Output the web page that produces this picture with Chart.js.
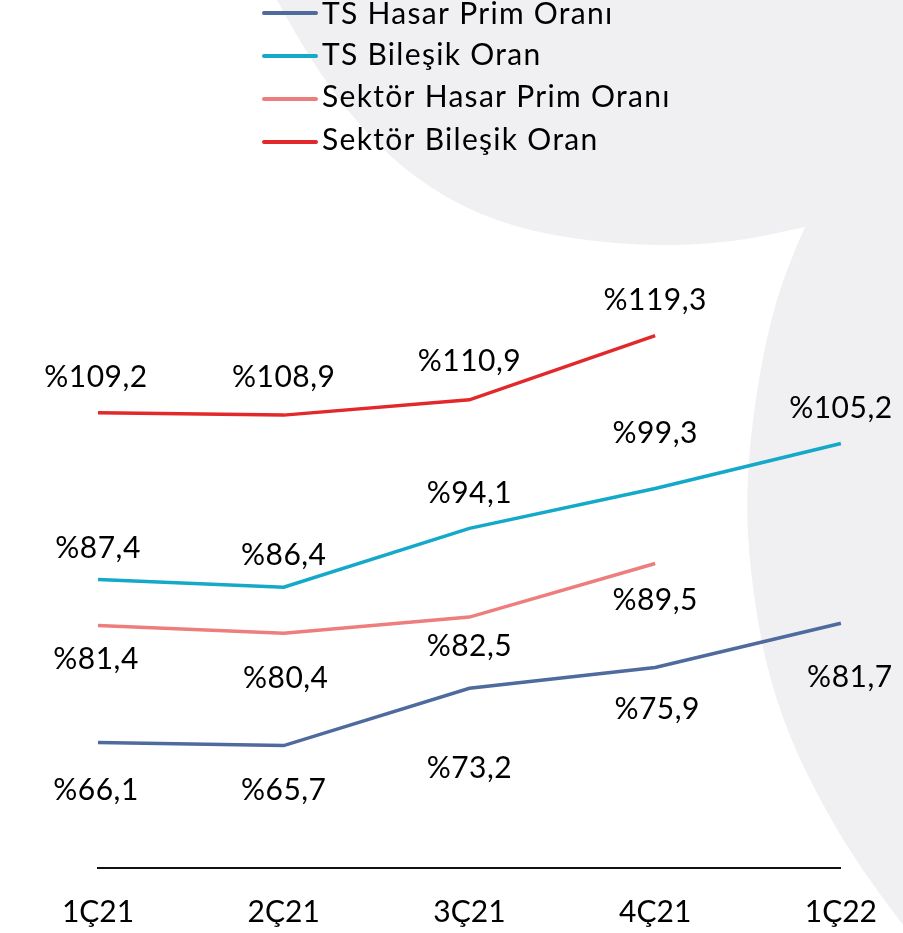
<!DOCTYPE html>
<html>
<head>
<meta charset="utf-8">
<script src="https://cdn.jsdelivr.net/npm/chart.js@4.4.1/dist/chart.umd.min.js"></script>
<style>
  html, body { margin: 0; padding: 0; background: #ffffff; }
  #wrap { width: 903px; height: 933px; }
</style>
</head>
<body>
<div id="wrap"><canvas id="c" width="903" height="933"></canvas></div>
<script>
// ---- data ----
const categories = ['1Ç21', '2Ç21', '3Ç21', '4Ç21', '1Ç22'];
const seriesNames = ['TS Hasar Prim Oranı', 'TS Bileşik Oran', 'Sektör Hasar Prim Oranı', 'Sektör Bileşik Oran'];
const tsHasarPrim = [66.1, 65.7, 73.2, 75.9, 81.7];
const tsBilesik = [87.4, 86.4, 94.1, 99.3, 105.2];
const sektorHasarPrim = [81.4, 80.4, 82.5, 89.5, null];
const sektorBilesik = [109.2, 108.9, 110.9, 119.3, null];

// ---- styles (kept apart from data) ----
const seriesColors = ['#4f6a9d', '#14a9c9', '#ee7e7e', '#e3282b'];
// vertical offset (px) of each value label's centre from its point
const labelOffsets = [
  [46, 43, 79, 40, 53],
  [-33, -33, -36, -57, -36],
  [33, 44, 28, 35, null],
  [-37, -39, -40, -37, null]
];
// horizontal nudges (px) of value labels
const labelShiftX = [
  [-2, 0, 0, 2, 9],
  [0, 0, 0, 0, 0],
  [-2, 2, 0, 0, null],
  [-2, 0, 0, 0, null]
];
const FONT = 'Lato, "Open Sans", sans-serif';

const fmt = v => '%' + v.toFixed(1).replace('.', ',');

const backgroundShape = {
  id: 'backgroundShape',
  beforeDraw(chart) {
    const ctx = chart.ctx;
    ctx.save();
    ctx.fillStyle = '#ffffff';
    ctx.fillRect(0, 0, chart.width, chart.height);
    const pts = [[277,0],[313,67],[380,150],[447,200],[513,227],[580,240],[650,246],[730,243],[805,227],
                 [787,267],[767,333],[752,420],[746,500],[750,570],[764,660],[790,740],[828,815],[862,870],[903,925]];
    ctx.beginPath();
    ctx.moveTo(pts[0][0], pts[0][1]);
    for (let i = 1; i < 8; i++) {
      const mx = (pts[i][0] + pts[i+1][0]) / 2, my = (pts[i][1] + pts[i+1][1]) / 2;
      ctx.quadraticCurveTo(pts[i][0], pts[i][1], mx, my);
    }
    ctx.lineTo(pts[8][0], pts[8][1]);
    for (let i = 9; i < pts.length - 1; i++) {
      const mx = (pts[i][0] + pts[i+1][0]) / 2, my = (pts[i][1] + pts[i+1][1]) / 2;
      ctx.quadraticCurveTo(pts[i][0], pts[i][1], mx, my);
    }
    ctx.lineTo(pts[pts.length-1][0], pts[pts.length-1][1]);
    ctx.lineTo(903, 933);
    ctx.lineTo(903, 0);
    ctx.closePath();
    ctx.fillStyle = '#f0f0f2';
    ctx.fill();
    ctx.restore();
  }
};

const customLegend = {
  id: 'customLegend',
  afterDraw(chart) {
    const ctx = chart.ctx;
    const lineY = [13, 56, 99, 142];
    const baseY = [24, 65, 107, 150];
    ctx.save();
    chart.data.datasets.forEach((ds, i) => {
      ctx.strokeStyle = ds.borderColor;
      ctx.lineWidth = 4;
      ctx.lineCap = 'round';
      ctx.beginPath();
      ctx.moveTo(264, lineY[i]);
      ctx.lineTo(316, lineY[i]);
      ctx.stroke();
      ctx.fillStyle = '#000000';
      ctx.font = '30px ' + FONT;
      ctx.letterSpacing = '1.3px';
      ctx.textAlign = 'left';
      ctx.textBaseline = 'alphabetic';
      ctx.fillText(ds.label, 322, baseY[i]);
    });
    ctx.restore();
  }
};

const valueLabels = {
  id: 'valueLabels',
  afterDatasetsDraw(chart) {
    const ctx = chart.ctx;
    ctx.save();
    ctx.fillStyle = '#000000';
    ctx.font = '30px ' + FONT;
    ctx.letterSpacing = '0.5px';
    ctx.textAlign = 'center';
    ctx.textBaseline = 'alphabetic';
    chart.data.datasets.forEach((ds, di) => {
      const meta = chart.getDatasetMeta(di);
      meta.data.forEach((pt, i) => {
        const v = ds.data[i];
        if (v === null || v === undefined) return;
        ctx.fillText(fmt(v), pt.x + (labelShiftX[di][i] || 0), pt.y + labelOffsets[di][i] + 11);
      });
    });
    ctx.restore();
  }
};

const seriesData = [tsHasarPrim, tsBilesik, sektorHasarPrim, sektorBilesik];

new Chart(document.getElementById('c'), {
  type: 'line',
  data: {
    labels: categories,
    datasets: seriesData.map((d, i) => ({
      label: seriesNames[i],
      data: d,
      borderColor: seriesColors[i],
      backgroundColor: seriesColors[i],
      borderWidth: 3.5,
      pointRadius: 0,
      tension: 0,
      fill: false
    }))
  },
  options: {
    responsive: false,
    animation: false,
    layout: { padding: { left: 98, right: 61, top: 256, bottom: 0 } },
    plugins: { legend: { display: false }, tooltip: { enabled: false } },
    scales: {
      x: {
        offset: false,
        grid: { display: false, drawTicks: false },
        border: { display: true, color: '#111111', width: 2 },
        ticks: { color: '#000000', font: { family: FONT, size: 30 }, padding: 26, maxRotation: 0, autoSkip: false },
        afterFit(scale) { scale.height = 65; }
      },
      y: {
        display: false,
        min: 49.7,
        max: 129.7
      }
    }
  },
  plugins: [backgroundShape, valueLabels, customLegend]
});
</script>
</body>
</html>
